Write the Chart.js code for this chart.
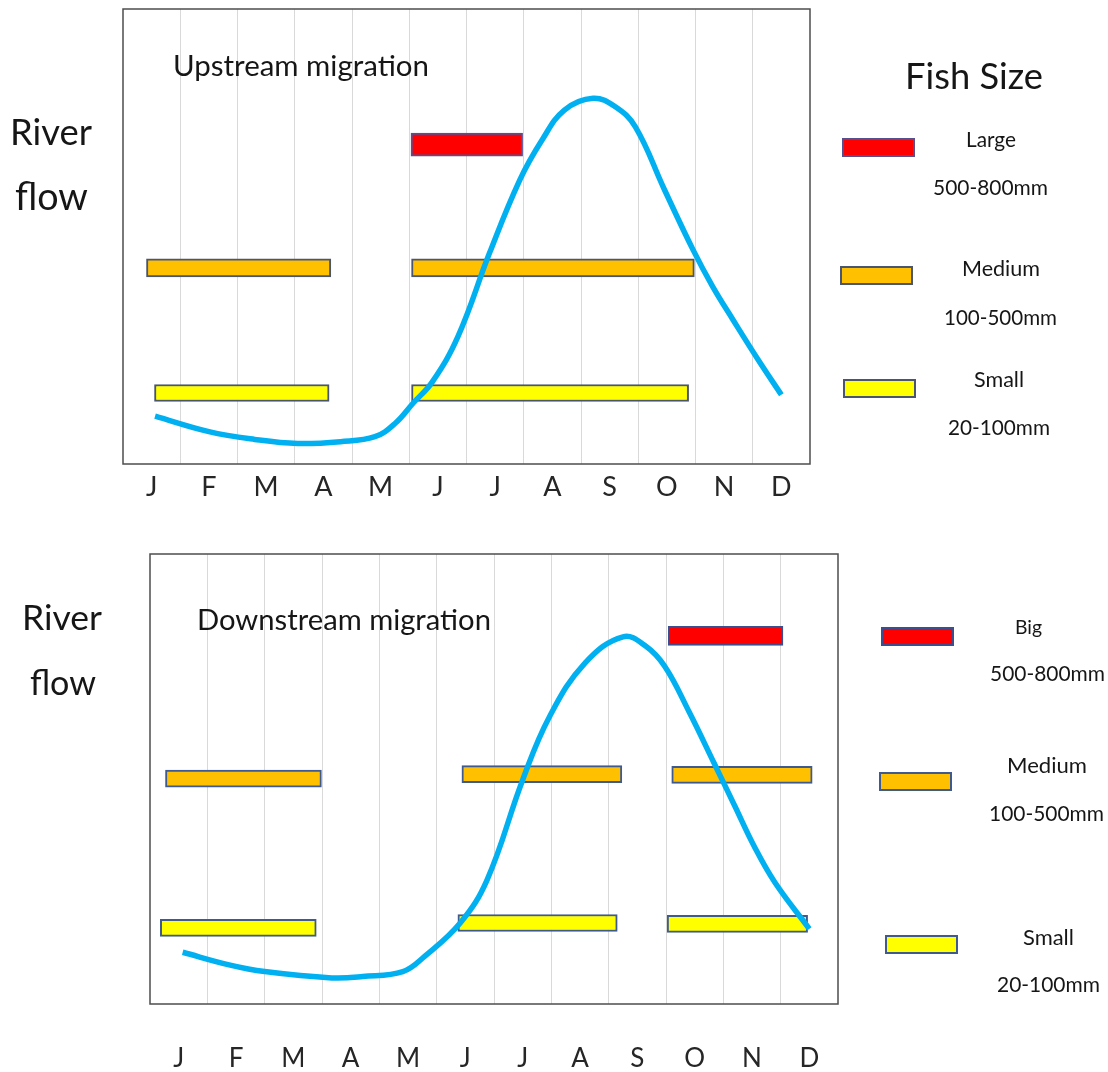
<!DOCTYPE html>
<html>
<head>
<meta charset="utf-8">
<script src="https://cdn.jsdelivr.net/npm/chart.js@4.4.1/dist/chart.umd.min.js"></script>
<style>
  html, body { margin: 0; padding: 0; background: #fff; }
  #page { position: relative; width: 1108px; height: 1072px; overflow: hidden; }
  #page canvas { position: absolute; left: 0; }
  .txt { position: absolute; white-space: nowrap; line-height: 1; color: #161616; font-family: Lato, "Open Sans", sans-serif; }
  .swatch { position: absolute; box-sizing: border-box; border: 2px solid #4a5570; }
</style>
</head>
<body>
<div id="page">
  <canvas id="up" width="1108" height="530" style="top:0"></canvas>
  <canvas id="down" width="1108" height="542" style="top:530px"></canvas>
</div>
<script>
const FONT = 'Lato, "Open Sans", sans-serif';
const months = ["J", "F", "M", "A", "M", "J", "J", "A", "S", "O", "N", "D"];

// river flow, x = months from start of January, y = % of panel height
const upFlowMonth = [0.56, 1.5, 2.3, 3.05, 3.8, 4.4, 4.76, 5.07, 5.4, 5.85, 6.4, 6.93, 7.32, 7.71, 8.21, 8.6, 8.95, 9.45, 9.96, 10.3, 10.66, 11.1, 11.5];
const upFlowLevel = [10.5, 7.1, 5.4, 4.5, 4.9, 6.0, 9.0, 13.4, 18, 28, 46.3, 62.4, 71.2, 77.8, 80.4, 78.5, 74.1, 60.5, 47, 39, 31.6, 22.8, 15.2];
const downFlowMonth = [0.57, 1.38, 2.0, 3.17, 3.71, 4.41, 4.79, 5.41, 5.88, 6.5, 6.97, 7.59, 8.25, 8.65, 8.98, 9.4, 9.84, 10.2, 10.54, 10.9, 11.5];
const downFlowLevel = [11.5, 8.7, 7.2, 5.8, 6.1, 7.2, 10.6, 18, 27.6, 49.8, 63.9, 75.8, 81.6, 79.5, 75, 65, 53.5, 44, 35, 27, 16.7];

// migration periods: [from month, to month, level]
const upLarge = [[5.03, 6.98, 70.2]];
const upMedium = [[0.41, 3.63, 43.1], [5.04, 9.98, 43.1]];
const upSmall = [[0.55, 3.6, 15.6], [5.04, 9.88, 15.6]];
const downLarge = [[9.04, 11.04, 81.8]];
const downMedium = [[0.27, 2.99, 50.1], [5.44, 8.23, 51.1], [9.1, 11.55, 50.9]];
const downSmall = [[0.18, 2.9, 16.9], [5.37, 8.15, 18.0], [9.02, 11.47, 17.8]];

const toBars = (rows) => rows.map(([from, to, level]) => ({ x: [from, to], y: level }));
const toPoints = (xs, ys) => xs.map((x, i) => ({ x: x, y: ys[i] }));

const frame = {
  id: "frame",
  beforeDatasetsDraw(chart) {
    const { ctx, chartArea: a } = chart;
    ctx.save();
    ctx.strokeStyle = "#4d4d4d";
    ctx.lineWidth = 1.5;
    ctx.strokeRect(a.left, a.top, a.right - a.left, a.bottom - a.top);
    ctx.restore();
  },
};

const barSet = (rows, fill, edge, thickness) => ({
  type: "bar",
  indexAxis: "y",
  grouped: false,
  xAxisID: "x",
  yAxisID: "y",
  data: toBars(rows),
  backgroundColor: fill,
  borderColor: edge,
  borderWidth: 2,
  borderSkipped: false,
  barThickness: thickness,
  order: 1,
});

const makePanel = (id, flowX, flowY, large, medium, small, look) =>
  new Chart(document.getElementById(id), {
    type: "line",
    data: {
      datasets: [
        {
          type: "line",
          xAxisID: "x",
          yAxisID: "y",
          data: toPoints(flowX, flowY),
          borderColor: "#00b0f0",
          borderWidth: 5.5,
          pointRadius: 0,
          fill: false,
          tension: 0.4,
          order: 0,
        },
        barSet(large, "#ff0000", look.largeEdge, look.thick[0]),
        barSet(medium, "#ffc000", look.edge, look.thick[1]),
        barSet(small, "#ffff00", look.edge, look.thick[2]),
      ],
    },
    options: {
      responsive: false,
      animation: false,
      events: [],
      layout: { padding: look.padding },
      plugins: { legend: { display: false }, tooltip: { enabled: false } },
      scales: {
        x: {
          type: "linear",
          min: 0,
          max: 12,
          offset: false,
          ticks: { stepSize: 1, display: false },
          grid: {
            color: (c) => (c.tick && (c.tick.value === 0 || c.tick.value === 12) ? "rgba(0,0,0,0)" : "#d9d9d9"),
            lineWidth: 1,
            drawTicks: false,
          },
          border: { display: false },
          afterFit: (s) => { s.height = 0; },
        },
        months: {
          type: "category",
          labels: months,
          position: "bottom",
          offset: true,
          grid: { display: false, drawTicks: false },
          border: { display: false },
          ticks: {
            color: "#262626",
            font: { family: FONT, size: look.monthSize },
            padding: look.monthPad,
            autoSkip: false,
            maxRotation: 0,
          },
          afterFit: (s) => { s.height = look.axisHeight; },
        },
        y: { type: "linear", min: 0, max: 100, offset: false, display: false },
      },
    },
    plugins: [frame],
  });

makePanel("up", upFlowMonth, upFlowLevel, upLarge, upMedium, upSmall, {
  padding: { left: 123, right: 298, top: 9, bottom: 26 },
  axisHeight: 40,
  monthSize: 27,
  monthPad: 7,
  thick: [23, 18, 17],
  edge: "#4a5570",
  largeEdge: "#55508f",
});

makePanel("down", downFlowMonth, downFlowLevel, downLarge, downMedium, downSmall, {
  padding: { left: 150, right: 270, top: 24, bottom: 0 },
  axisHeight: 68,
  monthSize: 26,
  monthPad: 39,
  thick: [19, 17, 17],
  edge: "#3f5a8e",
  largeEdge: "#3b4e8f",
});

// annotation text, sized to the width it takes in the figure
const page = document.getElementById("page");
const measure = document.createElement("canvas").getContext("2d");

const addText = (label, left, baseline, width) => {
  measure.font = "100px " + FONT;
  const size = (100 * width) / measure.measureText(label).width;
  measure.font = size + "px " + FONT;
  const m = measure.measureText(label);
  const asc = m.fontBoundingBoxAscent;
  const desc = m.fontBoundingBoxDescent;
  const el = document.createElement("div");
  el.className = "txt";
  el.textContent = label;
  el.style.fontSize = size + "px";
  el.style.left = left + "px";
  el.style.top = baseline - ((size - asc - desc) / 2 + asc) + "px";
  page.appendChild(el);
};

const addSwatch = (left, top, fill, edge) => {
  const el = document.createElement("div");
  el.className = "swatch";
  el.style.left = left + "px";
  el.style.top = top + "px";
  el.style.width = "73px";
  el.style.height = "19px";
  el.style.background = fill;
  el.style.borderColor = edge;
  page.appendChild(el);
};

addText("River", 10, 145, 82);
addText("flow", 15, 210, 73);
addText("Upstream migration", 173, 76, 256);
addText("Fish Size", 905, 89, 138);
addText("Large", 966, 148, 50);
addText("500-800mm", 933, 196, 115);
addText("Medium", 962, 277, 78);
addText("100-500mm", 944, 325, 113);
addText("Small", 974, 388, 50);
addText("20-100mm", 948, 435, 102);
addSwatch(842, 138, "#ff0000", "#55508f");
addSwatch(840, 266, "#ffc000", "#4a5570");
addSwatch(843, 379, "#ffff00", "#4a5570");

addText("River", 22, 630, 80);
addText("flow", 30, 696, 66);
addText("Downstream migration", 197, 630, 294);
addText("Big", 1015, 634, 27);
addText("500-800mm", 990, 682, 115);
addText("Medium", 1007, 774, 80);
addText("100-500mm", 989, 822, 115);
addText("Small", 1023, 945, 51);
addText("20-100mm", 997, 993, 103);
addSwatch(881, 627, "#ff0000", "#3b4e8f");
addSwatch(879, 772, "#ffc000", "#3f5a8e");
addSwatch(885, 935, "#ffff00", "#3f5a8e");
</script>
</body>
</html>
